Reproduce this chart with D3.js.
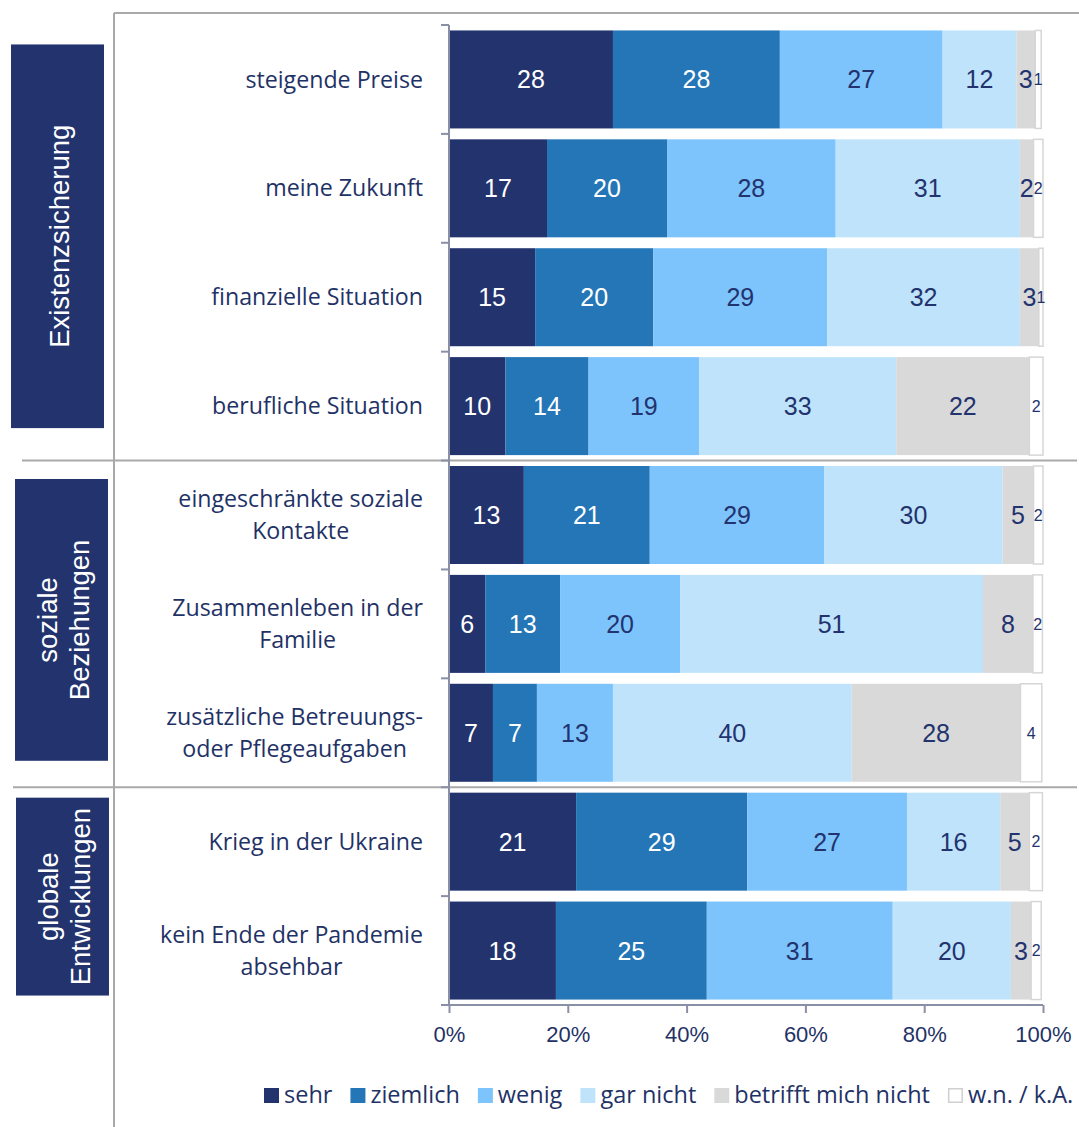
<!DOCTYPE html>
<html><head><meta charset="utf-8">
<script src="https://cdn.jsdelivr.net/npm/d3@7"></script>
<style>body{margin:0;background:#fff}svg{display:block}</style>
</head><body><svg id="c" width="1079" height="1127"></svg>
<script>
// ---- data ----
const categories = ["steigende Preise","meine Zukunft","finanzielle Situation","berufliche Situation",
  "eingeschränkte soziale\nKontakte","Zusammenleben in der\nFamilie","zusätzliche Betreuungs-\noder Pflegeaufgaben",
  "Krieg in der Ukraine","kein Ende der Pandemie\nabsehbar"];
const seriesNames = ["sehr","ziemlich","wenig","gar nicht","betrifft mich nicht","w.n. / k.A."];
const sehr      = [27.6,16.5,14.5, 9.5,12.6, 6.1, 7.4,21.4,18.0];
const ziemlich  = [28.1,20.2,19.9,14.0,21.2,12.6, 7.4,28.8,25.4];
const wenig     = [27.4,28.4,29.3,18.6,29.4,20.2,12.8,26.9,31.3];
const garNicht  = [12.4,31.0,32.4,33.2,30.0,51.0,40.2,15.7,19.9];
const betrifft  = [ 3.2, 2.3, 3.2,22.4, 5.2, 8.4,28.4, 4.9, 3.4];
const wnka      = [ 1.0, 1.6, 0.7, 2.3, 1.6, 1.6, 3.6, 2.2, 1.7];
const groups = ["Existenzsicherung","soziale\nBeziehungen","globale\nEntwicklungen"];
const groupStart = [0,4,7];
const groupEnd = [4,7,9];
const xTicks = [0,20,40,60,80,100];

// ---- style ----
const colors = ["#22336e","#2476b7","#7dc4fd","#bfe3fb","#d9d9d9","#ffffff"];
const labelColors = ["#ffffff","#ffffff","#22336e","#22336e","#22336e","#22336e"];
const navy = "#22336e";
const textNavy = "#1f3266";
const frame = "#a9a9a9";
const axisCol = "#8b8fa5";

const svg = d3.select("#c");
const x = d3.scaleLinear().domain([0,100]).range([449,1043]);
const y = d3.scaleBand().domain(d3.range(categories.length)).range([25,1005]).paddingInner(0.1).paddingOuter(0.05);
const step = y.step();
const boundary = i => 25 + i*step;

const seriesArrays = [sehr,ziemlich,wenig,garNicht,betrifft,wnka];
const rows = categories.map((c,i)=>{const o={i}; seriesNames.forEach((s,k)=>o[s]=seriesArrays[k][i]); return o;});
const stacked = d3.stack().keys(seriesNames)(rows);

// frame lines
svg.append("line").attr("x1",114).attr("x2",1079).attr("y1",13).attr("y2",13).attr("stroke",frame).attr("stroke-width",2);
svg.append("line").attr("x1",114).attr("x2",114).attr("y1",13).attr("y2",1127).attr("stroke",frame).attr("stroke-width",2);
[[4,22],[7,13]].forEach(([b,x0])=>{
  svg.append("line").attr("x1",x0).attr("x2",1077).attr("y1",boundary(b)).attr("y2",boundary(b)).attr("stroke",frame).attr("stroke-width",2);
});

// group boxes
const boxX = [[11,104],[15,108],[16,109]];
const boxInset = [[14,27],[13,21],[5,4]];
groups.forEach((g,k)=>{
  const top = y(groupStart[k]) + boxInset[k][0];
  const bot = y(groupEnd[k]-1) + y.bandwidth() - boxInset[k][1];
  const [x0,x1] = boxX[k];
  svg.append("rect").attr("x",x0).attr("y",top).attr("width",x1-x0).attr("height",bot-top).attr("fill",navy);
  const cx = (x0+x1)/2, cy = (top+bot)/2;
  const lines = g.split("\n");
  const lh = 32;
  const t = svg.append("text").attr("transform",`translate(${cx},${cy}) rotate(-90)`)
    .attr("text-anchor","middle").attr("fill","#fff")
    .style("font-family","'Liberation Sans',Arial,sans-serif").style("font-size","27.5px");
  lines.forEach((l,j)=>{
    t.append("tspan").attr("x",0).attr("y", 11 + (j-(lines.length-1)/2)*lh).text(l);
  });
});

// bars
const gBars = svg.append("g");
stacked.forEach((ser,k)=>{
  gBars.selectAll(null).data(ser).join("rect")
    .attr("x",d=>x(d[0])).attr("y",(d,i)=>y(i))
    .attr("width",d=>x(d[1])-x(d[0])).attr("height",y.bandwidth())
    .attr("fill",colors[k])
    .attr("stroke",k===5?"#d6d6d6":"none").attr("stroke-width",k===5?1.5:0);
});
// value labels
stacked.forEach((ser,k)=>{
  gBars.selectAll(null).data(ser).join("text")
    .attr("x",d=>(x(d[0])+x(d[1]))/2).attr("y",(d,i)=>y(i)+y.bandwidth()/2)
    .attr("text-anchor","middle").attr("dy","0.36em")
    .attr("fill",labelColors[k])
    .style("font-family","'Liberation Sans',Arial,sans-serif")
    .style("font-size",k===5?"16px":"25px")
    .text(d=>Math.round(d[1]-d[0]));
});

// y axis
svg.append("line").attr("x1",449).attr("x2",449).attr("y1",boundary(0)).attr("y2",boundary(categories.length)).attr("stroke",axisCol).attr("stroke-width",2);
d3.range(categories.length+1).forEach(i=>{
  svg.append("line").attr("x1",441).attr("x2",449).attr("y1",boundary(i)).attr("y2",boundary(i)).attr("stroke",axisCol).attr("stroke-width",2);
});

// category labels
categories.forEach((c,i)=>{
  const lines = c.split("\n");
  const t = svg.append("text").attr("fill",textNavy)
    .style("font-family","'Open Sans',sans-serif").style("font-size","23.2px");
  const lh = 32;
  const spans = lines.map((l,j)=>t.append("tspan").attr("y", y(i)+y.bandwidth()/2 + (j-(lines.length-1)/2)*lh).attr("dy","0.35em").text(l));
  const maxW = d3.max(spans, s=>s.node().getComputedTextLength());
  const cx = 423 - maxW/2;
  t.attr("text-anchor","middle");
  spans.forEach(s=>s.attr("x",cx));
});

// x axis
const xAxisY = boundary(categories.length);
const xa = svg.append("g").attr("transform",`translate(0,${xAxisY})`)
  .call(d3.axisBottom(x).tickValues(xTicks).tickSize(8).tickPadding(13).tickFormat(d=>d+"%"));
xa.select(".domain").remove();
xa.selectAll(".tick line").attr("stroke",axisCol).attr("stroke-width",2);
xa.selectAll(".tick text").attr("fill",textNavy).style("font-family","'Liberation Sans',Arial,sans-serif").style("font-size","22px");
svg.append("line").attr("x1",441).attr("x2",1043).attr("y1",xAxisY).attr("y2",xAxisY).attr("stroke",axisCol).attr("stroke-width",2);

// legend
let lx = 264;
const ly = 1095;
seriesNames.forEach((s,k)=>{
  svg.append("rect").attr("x",lx+0.75).attr("y",ly-7+0.75).attr("width",13.5).attr("height",13.5)
    .attr("fill",colors[k]).attr("stroke",k===5?"#d0d0d0":colors[k]).attr("stroke-width",1.5);
  const t = svg.append("text").attr("x",lx+20).attr("y",ly).attr("dy","0.35em").attr("fill",textNavy)
    .style("font-family","'Open Sans',sans-serif").style("font-size","23.5px").text(s);
  lx += 20 + t.node().getComputedTextLength() + 18;
});
</script>
</body></html>
